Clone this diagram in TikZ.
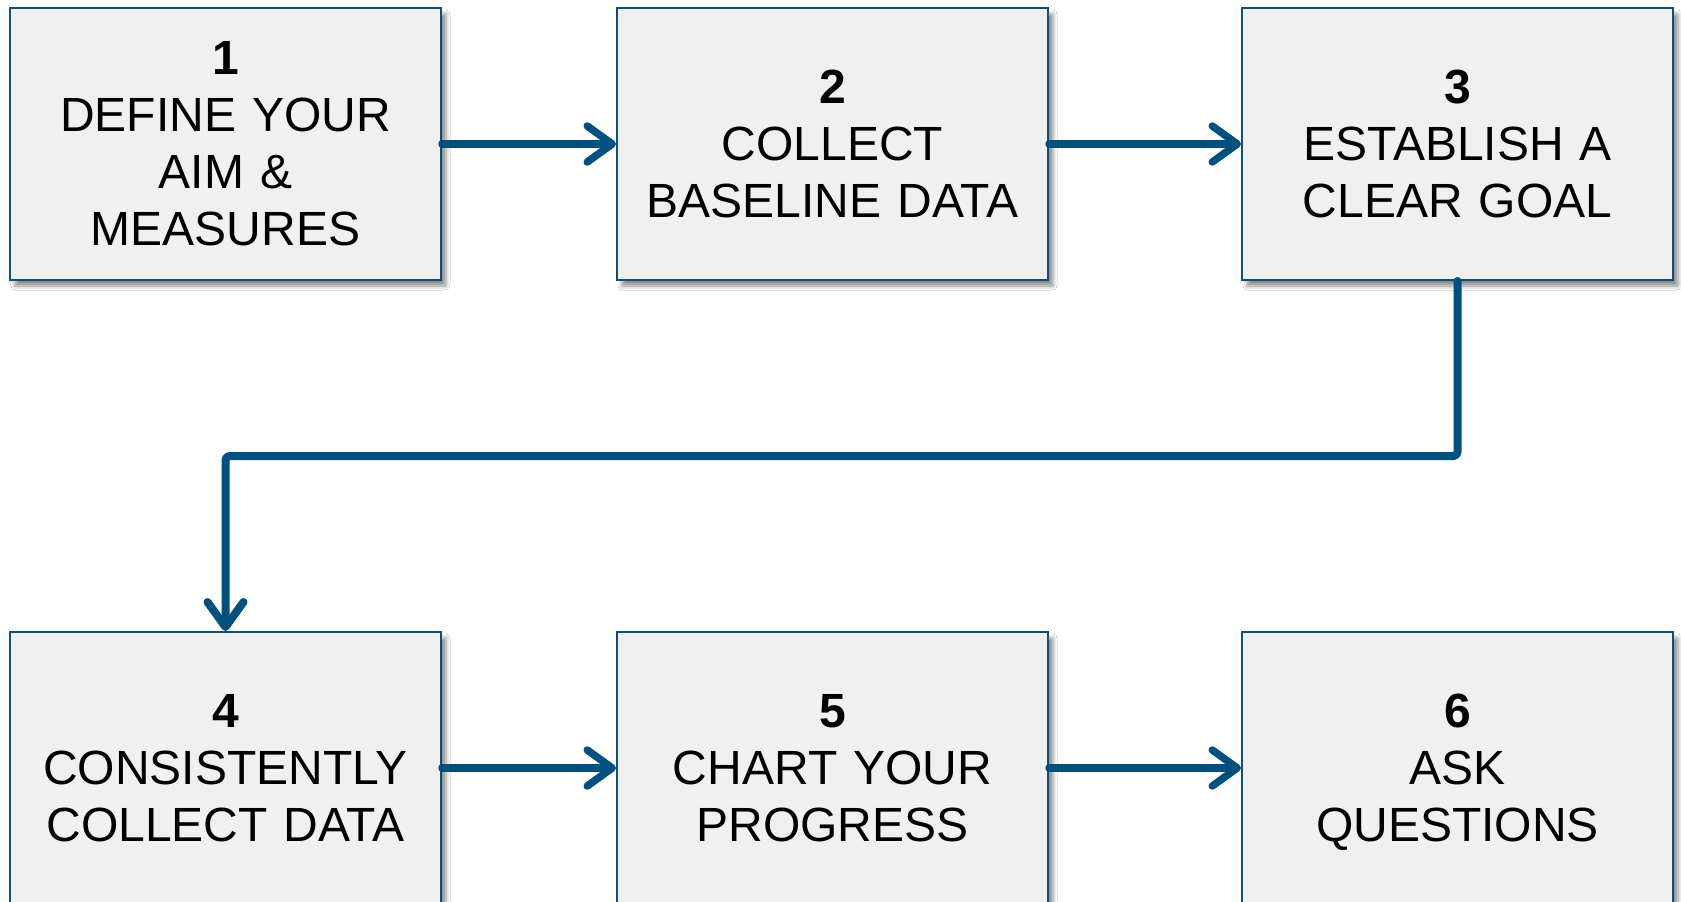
\documentclass[tikz,border=0pt]{standalone}
\usepackage{fontspec}
\setmainfont{Liberation Sans}
\usetikzlibrary{arrows.meta,shadows.blur}
\definecolor{boxfill}{HTML}{F0F0F0}
\definecolor{boxline}{HTML}{0B4F7A}
\definecolor{conncol}{HTML}{02507F}
\tikzset{
  stepbox/.style={draw=boxline, line width=2pt, fill=boxfill,
    minimum width=431pt, minimum height=272pt, inner sep=0pt,
    text width=425pt, align=center,
    font=\fontsize{48}{57}\selectfont,
    blur shadow={shadow xshift=5pt, shadow yshift=-6pt, shadow blur radius=4pt, shadow opacity=45}},
  conn/.style={draw=conncol, line width=7.5pt, line cap=round, line join=round,
    -{Straight Barb[length=25pt,width=36pt,line cap=round,line join=round]}},
  elbow/.style={conn, line width=8pt, rounded corners=4pt}
}
\begin{document}
\begin{tikzpicture}[x=1pt,y=1pt]
\useasboundingbox (0,0) rectangle (1681,-902);
\clip (0,0) rectangle (1681,-902);
\fill[white] (0,0) rectangle (1681,-902);
\node[stepbox] (b1) at (225.5,-144) {\textbf{1}\\DEFINE YOUR\\AIM \&\\MEASURES};
\node[stepbox] (b2) at (832.5,-144) {\textbf{2}\\COLLECT\\BASELINE DATA};
\node[stepbox] (b3) at (1457.5,-144) {\textbf{3}\\ESTABLISH A\\CLEAR GOAL};
\node[stepbox] (b4) at (225.5,-768) {\textbf{4}\\CONSISTENTLY\\COLLECT DATA};
\node[stepbox] (b5) at (832.5,-768) {\textbf{5}\\CHART YOUR\\PROGRESS};
\node[stepbox] (b6) at (1457.5,-768) {\textbf{6}\\ASK\\\smash{QUESTIONS}};
\coordinate (mid) at (0,-456);
\draw[conn] (b1.east) -- (b2.west);
\draw[conn] (b2.east) -- (b3.west);
\draw[conn] (b4.east) -- (b5.west);
\draw[conn] (b5.east) -- (b6.west);
\draw[elbow] (b3.south) -- (b3.south |- mid) -| (b4.north);
\end{tikzpicture}
\end{document}
